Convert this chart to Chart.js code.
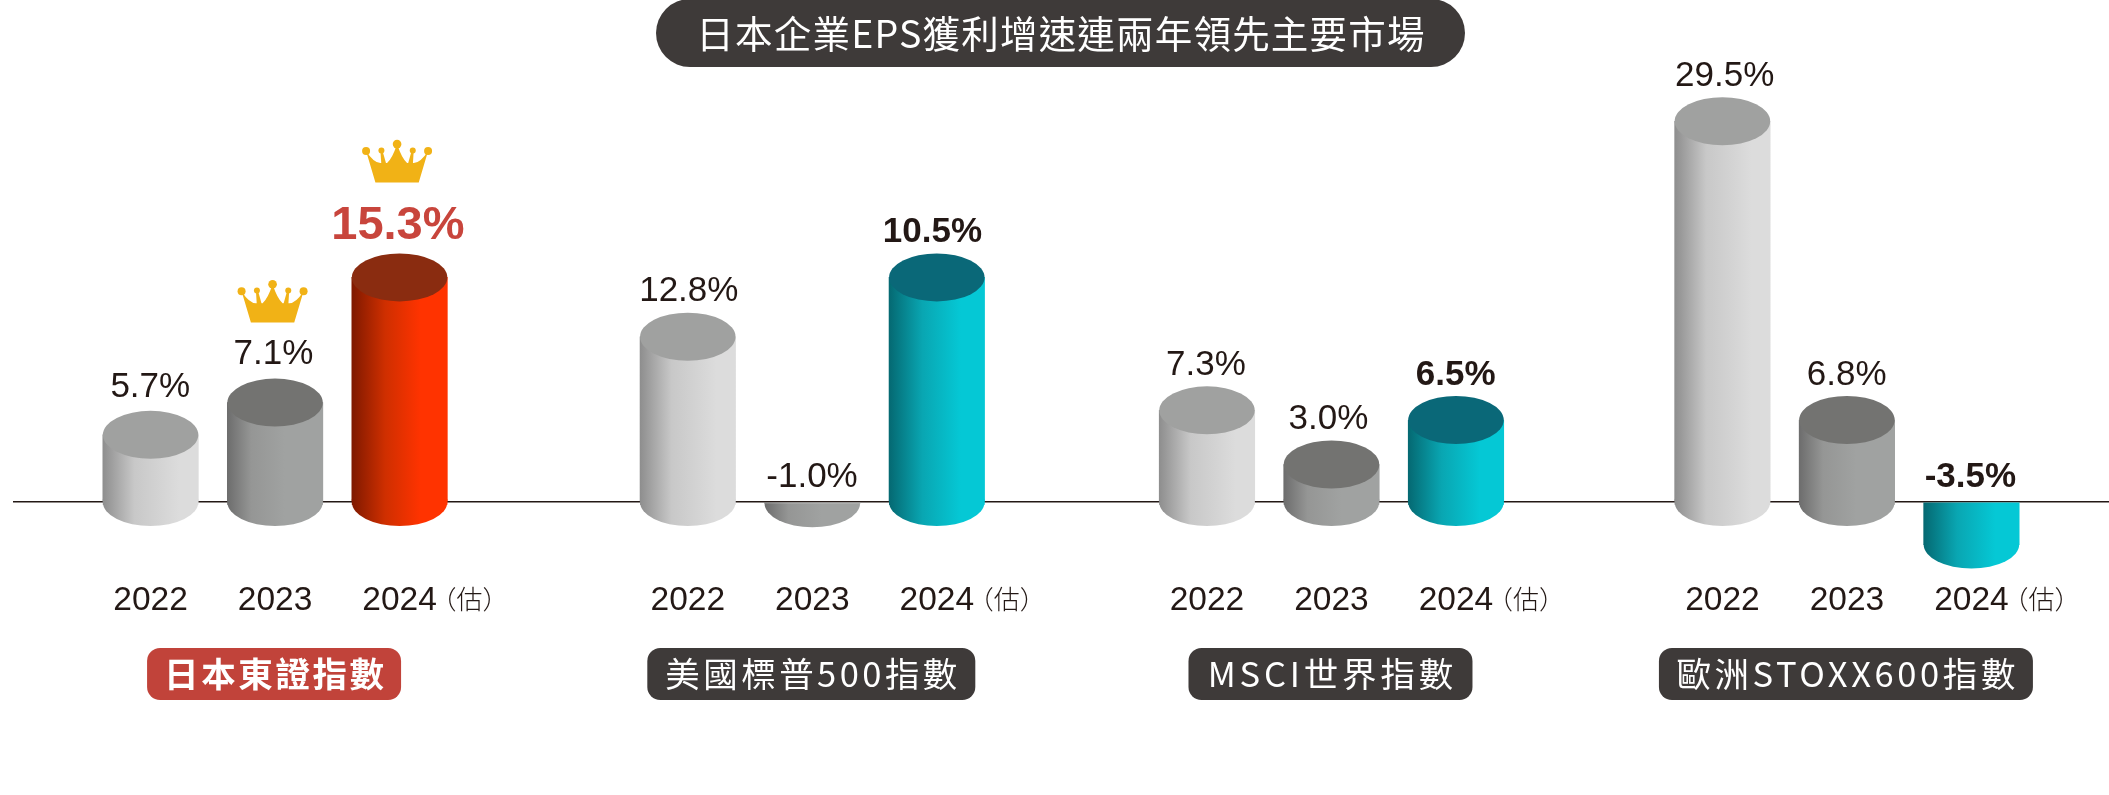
<!DOCTYPE html>
<html><head><meta charset="utf-8">
<script src="https://cdn.jsdelivr.net/npm/chart.js@4"></script>
<style>html,body{margin:0;padding:0;background:#fff}canvas{display:block}</style>
</head><body><canvas id="c" width="2109" height="795"></canvas>
<script>
const chartTitle = '日本企業EPS獲利增速連兩年領先主要市場';
const groupNames = ['日本東證指數', '美國標普500指數', 'MSCI世界指數', '歐洲STOXX600指數'];
const categories = ['2022','2023','2024','2022','2023','2024','2022','2023','2024','2022','2023','2024'];
// Percentages as printed above each cylinder.
const printedValues = [5.7, 7.1, 15.3, 12.8, -1.0, 10.5, 7.3, 3.0, 6.5, 29.5, 6.8, -3.5];
// Cylinder heights as actually drawn in the picture (it is not proportional to the printed figures).
const drawnHeights = [5.2, 7.7, 17.4, 12.8, -0.1, 17.4, 7.1, 2.9, 6.35, 29.5, 6.35, -3.3];
const estimateSuffix = '（估）';

const INK = '#231815', DARK_PILL = '#3e3a39', RED_TEXT = '#c8453c';
const SANS = '"Liberation Sans", Arial, sans-serif';
const CJK = '"Noto Sans CJK TC", sans-serif';

const palettes = {
  light: {cap:'#a0a1a0', stops:[[0,'#8e8e8e'],[.33,'#c8c8c8'],[.8,'#dcdcdc'],[1,'#dcdcdc']]},
  dark:  {cap:'#737371', stops:[[0,'#6d6d6d'],[.25,'#959695'],[.6,'#a0a2a1'],[1,'#a0a2a1']]},
  red:   {cap:'#8a2c10', stops:[[0,'#7f1900'],[.35,'#cf2f00'],[.72,'#ff3300'],[1,'#ff3300']]},
  teal:  {cap:'#0a6878', stops:[[0,'#056972'],[.35,'#09a6b2'],[.75,'#05c8d5'],[1,'#05c8d5']]}
};
const paletteFor = i => {
  if (i % 3 === 0) return palettes.light;
  if (i % 3 === 1) return palettes.dark;
  return i === 2 ? palettes.red : palettes.teal;
};

// Small horizontal nudges of the printed labels, and the pill sizes/tracking of the group names.
const labelNudge = [-0.3, -1.7, -1.7, 1, -0.3, -4.4, -1, -3, -0.3, 2.3, -0.3, -1];
const pillWidths = [254, 328, 284, 374];
const pillTracking = [2.6, 3.45, 3.85, 3.6];

// Category axis whose four groups of three are spaced apart.
class GroupedCategoryScale extends Chart.CategoryScale {
  getPixelForValue(value) {
    if (typeof value !== 'number') value = this.parse(value);
    const {edge, groupGaps} = this.options;
    const total = 2 * edge + this.getLabels().length - 1 + groupGaps.reduce((a, b) => a + b, 0);
    let units = edge + value;
    for (let g = 0; g < Math.floor(value / 3); g++) units += groupGaps[g];
    return this.left + units / total * this.width;
  }
}
GroupedCategoryScale.id = 'groupedCategory';
GroupedCategoryScale.defaults = Chart.CategoryScale.defaults;
Chart.register(GroupedCategoryScale);

const BAR_W = 95.5, CAP_RY = 24;

function barGradient(ctx, x, stops) {
  const g = ctx.createLinearGradient(x - BAR_W / 2, 0, x + BAR_W / 2, 0);
  stops.forEach(s => g.addColorStop(s[0], s[1]));
  return g;
}

function drawCrown(ctx, cx, bottom) {
  const k = 1 / 3;
  ctx.save();
  ctx.translate(cx, bottom);
  ctx.scale(k, k);
  ctx.fillStyle = '#f1b216';
  ctx.beginPath();
  ctx.moveTo(-65, 0); ctx.lineTo(65, 0); ctx.lineTo(93, -94);
  ctx.quadraticCurveTo(70, -58, 50, -58);
  ctx.lineTo(30, -58);
  ctx.quadraticCurveTo(14, -72, 0, -115);
  ctx.quadraticCurveTo(-14, -72, -30, -58);
  ctx.lineTo(-50, -58);
  ctx.quadraticCurveTo(-70, -58, -93, -94);
  ctx.closePath(); ctx.fill();
  [[-93,-94,12],[93,-94,12],[0,-115,13],[-47,-96,9],[47,-96,9]].forEach(b => {
    ctx.beginPath(); ctx.arc(b[0], b[1], b[2], 0, Math.PI * 2); ctx.fill();
  });
  [-1, 1].forEach(s => {
    ctx.beginPath();
    ctx.moveTo(s * 50, -96); ctx.lineTo(s * 44, -96); ctx.lineTo(s * 31, -50); ctx.lineTo(s * 47, -50);
    ctx.closePath(); ctx.fill();
  });
  ctx.restore();
}

function pill(ctx, x, y, w, h, r, color) {
  ctx.fillStyle = color;
  ctx.beginPath(); ctx.roundRect(x, y, w, h, r); ctx.fill();
}

const cylinderPlugin = {
  id: 'cylinders',
  afterDatasetsDraw(chart) {
    const ctx = chart.ctx, meta = chart.getDatasetMeta(0), zero = chart.scales.y.getPixelForValue(0);
    meta.data.forEach((bar, i) => {
      const pal = paletteFor(i), up = drawnHeights[i] > 0, bottom = up ? zero : Math.max(bar.y, zero + 1);
      ctx.fillStyle = barGradient(ctx, bar.x, pal.stops);
      if (up) ctx.fillRect(bar.x - BAR_W / 2, zero - 3, BAR_W, 6); // the zero line runs behind standing cylinders
      ctx.beginPath(); ctx.ellipse(bar.x, bottom, BAR_W / 2, CAP_RY, 0, 0, Math.PI); ctx.fill();
      if (up) {
        ctx.fillStyle = pal.cap;
        ctx.beginPath(); ctx.ellipse(bar.x, bar.y, BAR_W / 2, CAP_RY, 0, 0, Math.PI * 2); ctx.fill();
      }
    });
  }
};

const textPlugin = {
  id: 'annotationsText',
  afterDraw(chart) {
    const ctx = chart.ctx, meta = chart.getDatasetMeta(0), zero = chart.scales.y.getPixelForValue(0), xs = chart.scales.x;
    ctx.save();
    ctx.textAlign = 'center'; ctx.textBaseline = 'middle';
    // value labels
    meta.data.forEach((bar, i) => {
      const neg = drawnHeights[i] < 0, star = i === 2, lead = i === 5 || i === 8 || i === 11;
      const top = neg ? zero : bar.y - CAP_RY;
      ctx.font = (star ? 'bold 47px ' : lead ? 'bold 35px ' : '35px ') + SANS;
      ctx.fillStyle = star ? RED_TEXT : INK;
      ctx.fillText(printedValues[i].toFixed(1) + '%', bar.x + labelNudge[i], top - (neg ? 25 : star ? 27 : i < 2 ? 24 : 21));
      if (i % 3 === 2) {
        ctx.font = '300 26px ' + CJK; ctx.fillStyle = INK; ctx.textAlign = 'left';
        ctx.fillText(estimateSuffix, xs.getPixelForValue(i) + 31, 599);
        ctx.textAlign = 'center';
      }
    });
    // crowns over the two leading Japanese bars
    [1, 2].forEach(i => {
      const bar = meta.data[i];
      drawCrown(ctx, bar.x - 2.5, bar.y - CAP_RY - (i === 2 ? 71 : 56));
    });
    // group names
    groupNames.forEach((name, g) => {
      const cx = xs.getPixelForValue(g * 3 + 1) - 1;
      pill(ctx, cx - pillWidths[g] / 2, 648, pillWidths[g], 52, 13, g === 0 ? '#c1433a' : DARK_PILL);
      ctx.font = (g === 0 ? 'bold ' : '') + '34.5px ' + CJK;
      ctx.letterSpacing = pillTracking[g] + 'px';
      ctx.fillStyle = '#fff';
      ctx.fillText(name, cx + pillTracking[g] / 2, 674);
    });
    // title
    pill(ctx, 656, -1, 809, 68, 34, DARK_PILL);
    ctx.font = '37.5px ' + CJK;
    ctx.letterSpacing = '1.2px';
    ctx.fillStyle = '#fff';
    ctx.fillText(chartTitle, 1061, 34);
    ctx.letterSpacing = '0px';
    ctx.restore();
  }
};

new Chart(document.getElementById('c'), {
  type: 'bar',
  data: {
    labels: categories,
    datasets: [{
      data: drawnHeights,
      barThickness: BAR_W,
      borderWidth: 0,
      backgroundColor(c) {
        const x = c.chart.scales.x.getPixelForValue(c.dataIndex);
        if (!Number.isFinite(x)) return palettes.light.cap;
        return barGradient(c.chart.ctx, x, paletteFor(c.dataIndex).stops);
      }
    }]
  },
  options: {
    responsive: false,
    animation: false,
    layout: {padding: {left: 13, right: 0, top: 0, bottom: 0}},
    plugins: {legend: {display: false}, tooltip: {enabled: false}, title: {display: false}},
    scales: {
      x: {
        type: 'groupedCategory',
        edge: 1.105,
        groupGaps: [1.315, 1.17, 1.14],
        grid: {display: false},
        border: {display: false},
        afterFit(s) { s.height = 220; },
        ticks: {autoSkip: false, maxRotation: 0, padding: -2, color: INK, font: {family: SANS, size: 33.5}}
      },
      y: {
        min: -5.66, max: 38.9,
        afterBuildTicks(s) { s.ticks = [{value: 0}]; },
        afterFit(s) { s.width = 0; },
        border: {display: false},
        ticks: {display: false},
        grid: {drawTicks: false, color: '#231815', lineWidth: 1.5}
      }
    }
  },
  plugins: [cylinderPlugin, textPlugin]
});
</script></body></html>
